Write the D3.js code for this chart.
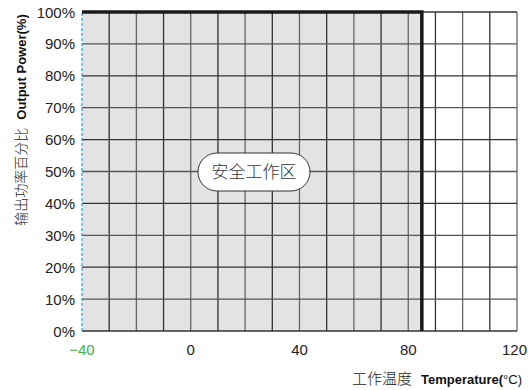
<!DOCTYPE html>
<html><head><meta charset="utf-8">
<script src="https://cdn.jsdelivr.net/npm/d3@7"></script>
<style>body{margin:0;background:#fff}svg{display:block}</style>
</head><body>
<script>
const xTicks = [-40, 0, 40, 80, 120];
const yTicks = [0,10,20,30,40,50,60,70,80,90,100];
const xGrid = d3.range(-40, 121, 10);
const curveTemp = [-40, 85, 85];
const curvePower = [100, 100, 0];
const regionLabel = "安全工作区";

const W = 528, H = 390;
const svg = d3.select("body").append("svg").attr("width", W).attr("height", H);
const x = d3.scaleLinear().domain([-40, 120]).range([82, 517]);
const y = d3.scaleLinear().domain([0, 100]).range([331, 12]);

// shaded safe area
const area = d3.area().x(d => x(d[0])).y0(y(0)).y1(d => y(d[1]));
svg.append("path").datum([[curveTemp[0], curvePower[0]], [curveTemp[1], curvePower[1]]])
  .attr("d", area).attr("fill", "#e3e3e3");

// grid
svg.append("g").selectAll("line").data(xGrid.slice(1)).join("line")
  .attr("x1", d => x(d)).attr("x2", d => x(d)).attr("y1", y(0)).attr("y2", y(100))
  .attr("stroke", (d,i) => i % 2 ? "#666" : "#333").attr("stroke-width", 1.3);
svg.append("g").selectAll("line").data(yTicks).join("line")
  .attr("x1", x(-40)).attr("x2", x(120)).attr("y1", d => y(d)).attr("y2", d => y(d))
  .attr("stroke", (d,i) => i % 2 ? "#555" : "#333").attr("stroke-width", 1.3);
// left axis blue dashed
svg.append("line").attr("x1", x(-40)).attr("x2", x(-40)).attr("y1", y(0)).attr("y2", y(100))
  .attr("stroke", "#2aa8e0").attr("stroke-width", 1.3).attr("stroke-dasharray", "3,2");

// derating curve
const line = d3.line().x((d,i) => x(curveTemp[i])).y((d,i) => y(curvePower[i]));
svg.append("path").datum(curveTemp).attr("d", line).attr("fill", "none")
  .attr("stroke", "#1a1a1a").attr("stroke-width", 3.5).attr("stroke-linejoin", "miter");

// y tick labels
svg.append("g").selectAll("text").data(yTicks).join("text")
  .attr("x", 75).attr("y", d => y(d) + 5.5).attr("text-anchor", "end")
  .attr("font-family", "Liberation Sans, Arial, sans-serif").attr("font-size", 15).attr("fill", "#222")
  .text(d => d + "%");
// x tick labels
svg.append("g").selectAll("text").data(xTicks).join("text")
  .attr("x", d => d === 120 ? W - 1 : x(d)).attr("y", 355)
  .attr("text-anchor", d => d === 120 ? "end" : "middle")
  .attr("font-family", "Liberation Sans, Arial, sans-serif").attr("font-size", 15)
  .attr("fill", d => d === -40 ? "#3cb44b" : "#222")
  .text(d => d === -40 ? "−40" : d);

// region label
const cx = 254, cy = 172;
svg.append("rect").attr("x", cx - 56).attr("y", cy - 19).attr("width", 112).attr("height", 38)
  .attr("rx", 19).attr("fill", "#fff").attr("stroke", "#333").attr("stroke-width", 1);
svg.append("text").attr("x", cx).attr("y", cy + 6).attr("text-anchor", "middle")
  .attr("font-family", "Noto Sans CJK SC").attr("font-weight", 300).attr("font-size", 17).attr("fill", "#333")
  .text(regionLabel);

// axis titles
const yt = svg.append("text").attr("transform", "translate(26,120) rotate(-90)").attr("text-anchor", "middle");
yt.append("tspan").attr("font-family", "Noto Sans CJK SC").attr("font-weight", 300).attr("font-size", 14).attr("fill", "#222").text("输出功率百分比");
yt.append("tspan").attr("font-family", "Liberation Sans, Arial, sans-serif").attr("font-weight", "bold").attr("font-size", 13).attr("fill", "#111").attr("dx", 8).text("Output Power(%)");

const xt = svg.append("text").attr("x", 522).attr("y", 384).attr("text-anchor", "end");
xt.append("tspan").attr("font-family", "Noto Sans CJK SC").attr("font-weight", 300).attr("font-size", 15).attr("fill", "#222").text("工作温度");
xt.append("tspan").attr("font-family", "Liberation Sans, Arial, sans-serif").attr("font-weight", "bold").attr("font-size", 13).attr("fill", "#111").attr("dx", 9).text("Temperature(");
xt.append("tspan").attr("font-family", "Liberation Sans, Arial, sans-serif").attr("font-size", 13).attr("fill", "#111").text("°C)");
</script>
</body></html>
